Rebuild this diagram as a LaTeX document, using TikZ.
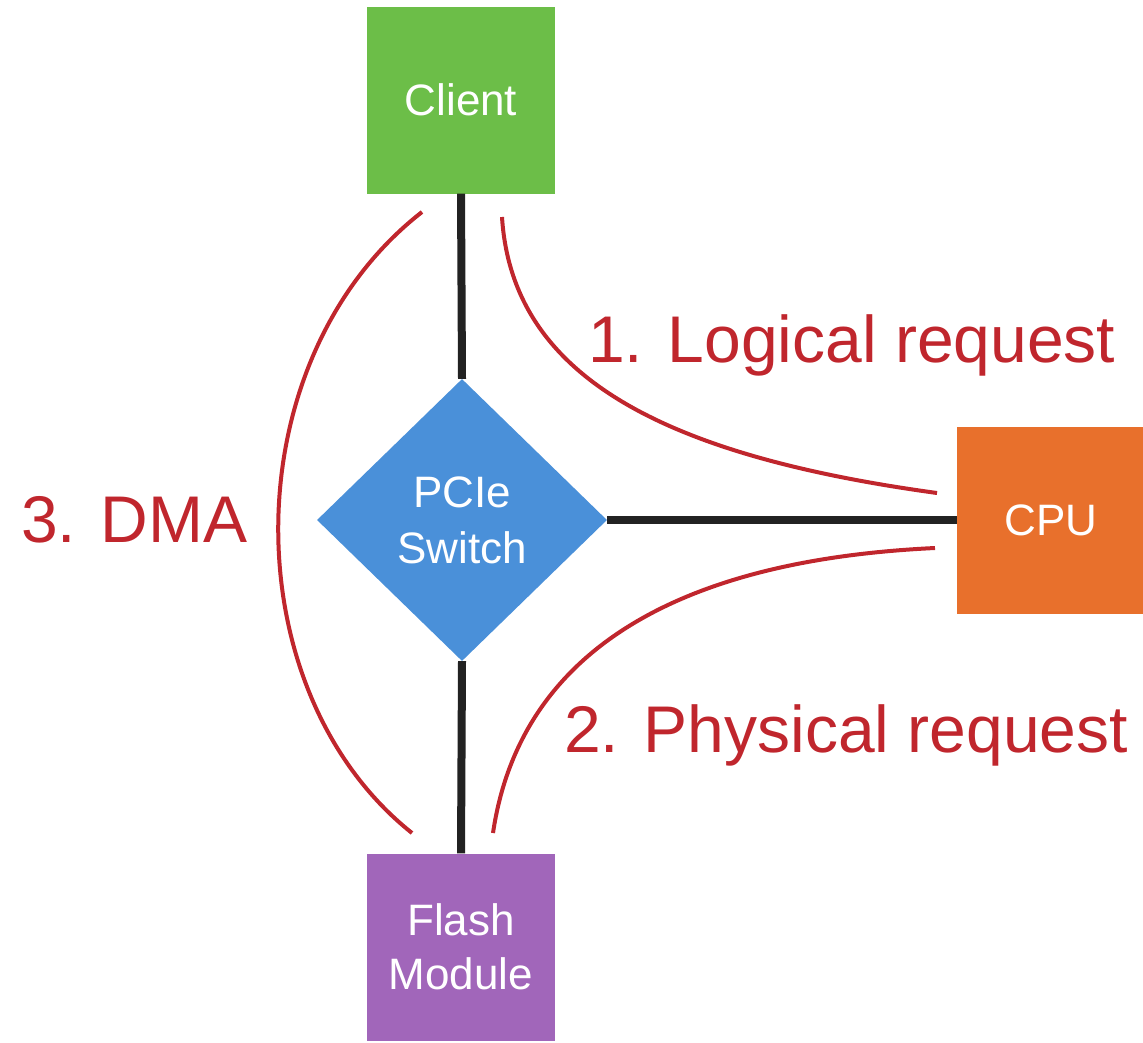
\documentclass[tikz,border=0pt]{standalone}
\usepackage{fontspec}
\setmainfont{Liberation Sans}
\usetikzlibrary{shapes.geometric}
\definecolor{cgreen}{RGB}{108,190,72}
\definecolor{cblue}{RGB}{74,144,217}
\definecolor{corange}{RGB}{232,112,44}
\definecolor{cpurple}{RGB}{161,102,186}
\definecolor{cred}{RGB}{192,38,45}
\definecolor{clink}{RGB}{34,34,34}
\tikzset{
  box/.style={rectangle, inner sep=0pt, minimum width=188pt, minimum height=187pt,
    text=white, align=center, font=\fontsize{44}{54}\selectfont},
  switchbox/.style={diamond, inner sep=0pt, minimum width=290pt, minimum height=282pt,
    fill=cblue, text=white, align=center, font=\fontsize{44}{56}\selectfont},
  link/.style={draw=clink, line width=8pt},
  flow/.style={draw=cred, line width=4pt},
  lbl/.style={text=cred, inner sep=0pt, font=\fontsize{66}{70}\selectfont}
}
\begin{document}
\begin{tikzpicture}[x=1pt, y=-1pt]
\useasboundingbox (0,0) rectangle (1143,1042);
\clip (0,0) rectangle (1143,1042);
\node[box, fill=cgreen] (client) at (461,100) {Client};
\node[switchbox] (switch) at (462,520) {PCIe\\Switch};
\node[box, fill=corange] (cpu) at (1051,520) {CPU};
\node[box, fill=cpurple] (flash) at (461,947) {Flash\\Module};
\draw[link] (client.south) -- (switch.north);
\draw[link] (switch.east) -- (cpu.west);
\draw[link] (switch.south) -- (flash.north);
\coordinate (a1) at (502,217);
\coordinate (a2) at (937,493);
\coordinate (b1) at (493,833);
\coordinate (b2) at (935,548);
\coordinate (c1) at (422,212);
\coordinate (c2) at (412,833);
\draw[flow] (a1) .. controls (512,375) and (660,455) .. (a2);
\draw[flow] (b1) .. controls (520,650) and (680,560) .. (b2);
\draw[flow] (c1) .. controls (232,360) and (232,690) .. (c2);
\node[lbl, anchor=base west] (l1) at (588,362) {1. Logical request};
\node[lbl, anchor=base west] (l2) at (564,752) {2. Physical request};
\node[lbl, anchor=base west] (l3) at (21,542) {3. DMA};
\end{tikzpicture}
\end{document}
